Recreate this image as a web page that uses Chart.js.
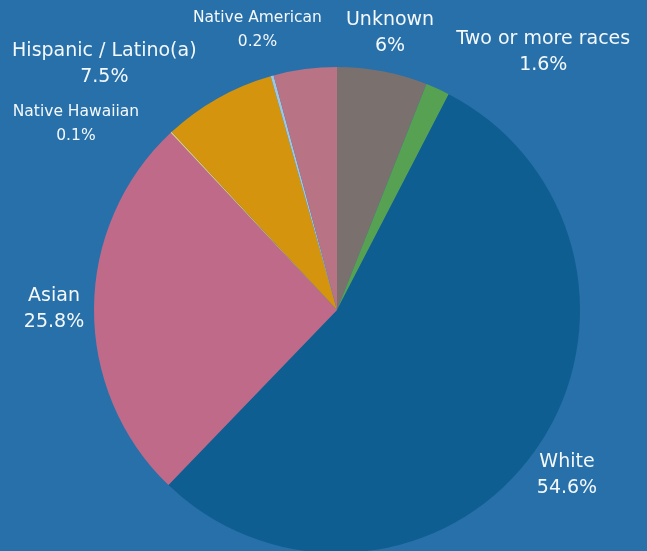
<!DOCTYPE html>
<html>
<head>
    <title>Enrollment by Race / Ethnicity</title>
    <style>
        html, body {
            margin: 0;
            padding: 0;
            overflow: hidden;
            background: #2770aa;
        }
        #chart-container {
            width: 647px;
            height: 560px;
        }
    </style>
    <script src="https://cdn.jsdelivr.net/npm/chart.js"></script>
</head>
<body>
    <div id="chart-container">
        <canvas id="raceChart"></canvas>
    </div>
    <script>
        // slices run clockwise from 12 o'clock
        const categories = ['Unknown', 'Two or more races', 'White', 'Asian', 'Native Hawaiian',
            'Hispanic / Latino(a)', 'Native American', ''];
        const percents = [6, 1.6, 54.6, 25.8, 0.1, 7.5, 0.2, 4.2];
        const sliceColors = ['#7a706e', '#57a252', '#0f5e91', '#be6a88', '#f2c46e',
            '#d4940e', '#9cc6e2', '#b87385'];
        // smaller text for the two tiny groups
        const smallLabels = ['Native Hawaiian', 'Native American'];
        // shifts so neighbouring labels do not collide
        const labelNudge = [[0, 1], [89, 0], [0, 0], [0, 1], [-68, 21], [-94, 1], [-4, -7], [0, 0]];

        const outsideLabels = {
            id: 'outsideLabels',
            afterDatasetsDraw(chart) {
                const ctx = chart.ctx;
                const meta = chart.getDatasetMeta(0);
                ctx.save();
                ctx.fillStyle = '#f4f8fb';
                ctx.textAlign = 'center';
                ctx.textBaseline = 'middle';
                meta.data.forEach((arc, i) => {
                    const name = categories[i];
                    if (!name) return;
                    const mid = (arc.startAngle + arc.endAngle) / 2;
                    const r = arc.outerRadius + 40;
                    const x = arc.x + Math.cos(mid) * r + labelNudge[i][0];
                    const y = arc.y + Math.sin(mid) * r + labelNudge[i][1];
                    const small = smallLabels.includes(name);
                    const size = small ? 15.5 : 19;
                    const gap = small ? 12 : 13;
                    ctx.font = `${size}px "DejaVu Sans", sans-serif`;
                    ctx.fillText(name, x, y - gap);
                    ctx.fillText(percents[i] + '%', x, y + gap);
                });
                ctx.restore();
            }
        };

        new Chart(document.getElementById('raceChart'), {
            type: 'pie',
            data: {
                labels: categories,
                datasets: [{
                    data: percents,
                    backgroundColor: sliceColors,
                    borderWidth: 0
                }]
            },
            options: {
                responsive: true,
                maintainAspectRatio: false,
                animation: false,
                layout: {
                    padding: { top: 67, bottom: 7, left: 94, right: 67 }
                },
                plugins: {
                    legend: { display: false },
                    tooltip: { enabled: false }
                }
            },
            plugins: [outsideLabels]
        });
    </script>
</body>
</html>
